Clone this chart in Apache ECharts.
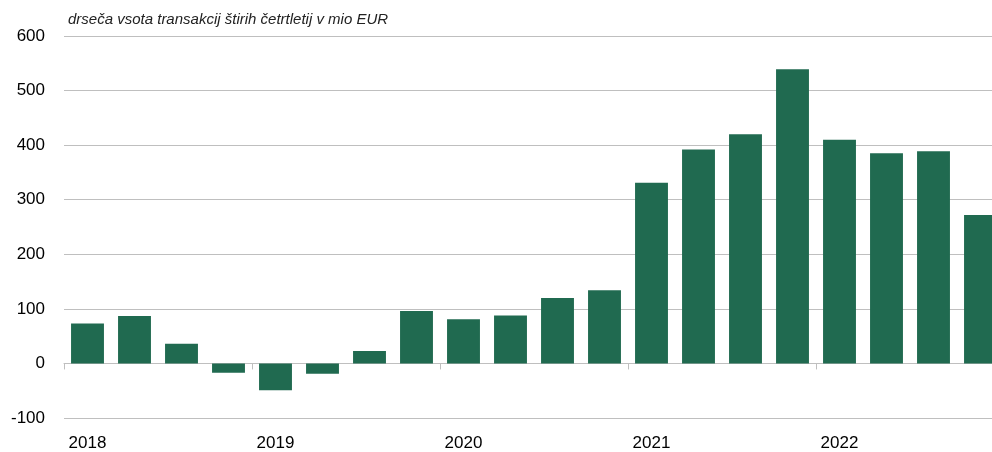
<!DOCTYPE html>
<html>
<head>
<meta charset="utf-8">
<script src="https://cdn.jsdelivr.net/npm/echarts@6/dist/echarts.min.js"></script>
<style>
    html, body { margin: 0; padding: 0; background: #fff; overflow: hidden; }
    /* platno je širše od okna: zadnji stolpec je v izvirniku odrezan */
    #chart { width: 1004px; height: 452px; }
</style>
</head>
<body>
<div id="chart"></div>
<script>
// četrtletja 2018–2022
const quarters = [
    '2018Q1', '2018Q2', '2018Q3', '2018Q4',
    '2019Q1', '2019Q2', '2019Q3', '2019Q4',
    '2020Q1', '2020Q2', '2020Q3', '2020Q4',
    '2021Q1', '2021Q2', '2021Q3', '2021Q4',
    '2022Q1', '2022Q2', '2022Q3', '2022Q4'
]
// drseča vsota transakcij štirih četrtletij (mio EUR)
const values = [
    73, 87, 36, -17,
    -49, -19, 23, 96,
    81, 88, 120, 134,
    331, 392, 420, 539,
    410, 385, 389, 272
]
const yTicks = [-100, 0, 100, 200, 300, 400, 500, 600]
const subtitle = 'drseča vsota transakcij štirih četrtletij v mio EUR'

const font = 'Liberation Sans, Arial, sans-serif'
let myChart = echarts.init(document.getElementById('chart'))
myChart.setOption({
    animation: false,
    title: {
        text: subtitle,
        left: 68,
        top: 12,
        padding: 0,
        textStyle: {
            fontFamily: font,
            fontSize: 15,
            fontStyle: 'italic',
            fontWeight: 'normal',
            color: '#222'
        }
    },
    grid: {
        left: 64,
        right: 0,
        top: 36,
        bottom: 33
    },
    xAxis: [
        {
            // spodnje oznake let
            type: 'category',
            data: quarters,
            position: 'bottom',
            axisLine: { show: false, onZero: false },
            axisTick: { show: false },
            axisLabel: {
                interval: 0,
                margin: 17,
                fontFamily: font,
                fontSize: 17,
                color: '#000',
                formatter: function (v) {
                    return v.slice(4) === 'Q1' ? v.slice(0, 4) : ''
                }
            }
        },
        {
            // os na ničli s kljukicami med leti
            type: 'category',
            data: quarters,
            position: 'bottom',
            axisLine: { show: true, onZero: true, lineStyle: { color: '#bfbfbf', width: 1 } },
            axisTick: {
                show: true,
                length: 6,
                interval: function (i) { return i % 4 === 0 },
                lineStyle: { color: '#bfbfbf' }
            },
            axisLabel: { show: false }
        }
    ],
    yAxis: {
        type: 'value',
        min: yTicks[0],
        max: yTicks[yTicks.length - 1],
        interval: 100,
        axisLine: { show: false },
        axisTick: { show: false },
        axisLabel: {
            margin: 19,
            fontFamily: font,
            fontSize: 17,
            color: '#000'
        },
        splitLine: {
            lineStyle: { color: '#bfbfbf', width: 1 }
        }
    },
    series: [
        {
            type: 'bar',
            xAxisIndex: 0,
            data: values,
            barCategoryGap: '30%',
            itemStyle: { color: '#206a50' }
        }
    ]
})
</script>
</body>
</html>
